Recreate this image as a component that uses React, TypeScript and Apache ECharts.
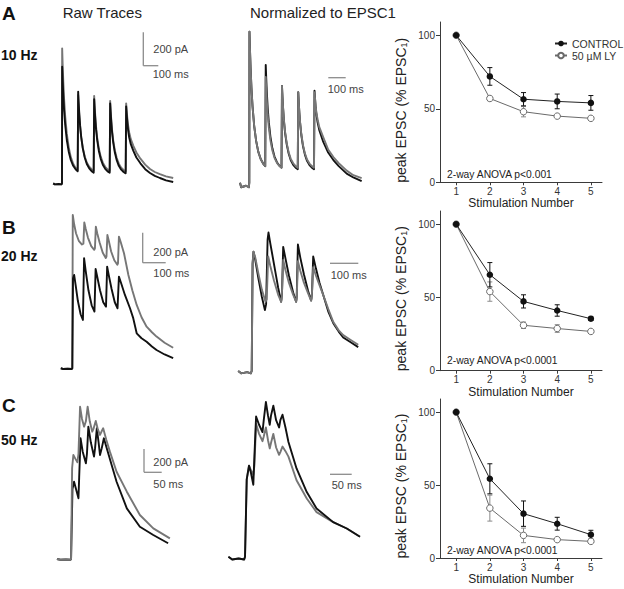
import React, { useEffect, useRef } from 'react';
import * as echarts from 'echarts';

const FONT = '"Liberation Sans", Arial, Helvetica, sans-serif';

// ---------- Traces (time in ms, current in pA or normalized to EPSC1) ----------
// 10 Hz raw
const raw10Control = [[-55,0],[-45,-6],[-20,-4],[-3,-6],[0,0],[1,700],[4,620],[8,530],[13,440],[20,350],[30,260],[42,190],[55,140],[70,105],[85,84],[98,72],
  [101,550],[104,488],[108,419],[113,349],[120,279],[130,210],[142,155],[155,116],[170,90],[185,73],[198,64],
  [201,505],[204,449],[208,386],[213,322],[220,259],[230,196],[242,147],[255,112],[270,87],[285,72],[298,64],
  [301,480],[304,427],[308,367],[313,306],[320,246],[330,186],[342,139],[355,105],[370,82],[385,68],[398,60],
  [401,462],[404,420],[408,370],[413,320],[420,275],[430,235],[446,195],[465,155],[490,120],[520,85],[550,62],[580,45],[612,32],[650,18],[695,8]];
const raw10LY = [[-55,0],[-45,-6],[-20,-4],[-3,-6],[0,0],[1,810],[4,717],[8,612],[13,507],[20,402],[30,298],[42,216],[55,157],[70,117],[85,92],[98,78],
  [101,530],[104,472],[108,407],[113,342],[120,277],[130,212],[142,161],[155,125],[170,100],[185,85],[198,76],
  [201,525],[204,468],[208,404],[213,339],[220,274],[230,210],[242,160],[255,124],[270,99],[285,84],[298,75],
  [301,495],[304,441],[308,381],[313,320],[320,259],[330,199],[342,152],[355,118],[370,94],[385,80],[398,72],
  [401,480],[404,440],[408,395],[413,350],[420,305],[430,265],[446,225],[465,185],[490,148],[520,112],[550,86],[580,68],[612,55],[650,42],[695,32]];
// 10 Hz normalized
const norm10Control = [[-57,0],[-50,-0.03],[-20,-0.02],[-3,-0.03],[0,0],[1,1.0],[4,0.887],[8,0.76],[13,0.632],[20,0.504],[30,0.377],[42,0.277],[55,0.206],[70,0.157],[85,0.127],[98,0.11],
  [101,0.78],[104,0.694],[108,0.596],[113,0.498],[120,0.401],[130,0.304],[142,0.228],[155,0.173],[170,0.136],[185,0.113],[198,0.1],
  [201,0.64],[204,0.57],[208,0.49],[213,0.41],[220,0.33],[230,0.255],[242,0.193],[255,0.149],[270,0.119],[285,0.1],[298,0.09],
  [301,0.6],[304,0.535],[308,0.462],[313,0.389],[320,0.316],[330,0.243],[342,0.186],[355,0.145],[370,0.117],[385,0.1],[398,0.09],
  [401,0.61],[404,0.56],[408,0.5],[413,0.45],[420,0.4],[430,0.35],[455,0.27],[485,0.2],[517,0.15],[550,0.11],[599,0.06],[640,0.035],[691,0.01]];
const norm10LY = [[-57,0],[-50,-0.03],[-20,-0.02],[-3,-0.03],[0,0],[1,1.0],[4,0.887],[8,0.76],[13,0.632],[20,0.504],[30,0.377],[42,0.277],[55,0.206],[70,0.157],[85,0.127],[98,0.11],
  [101,0.70],[104,0.624],[108,0.538],[113,0.452],[120,0.366],[130,0.28],[142,0.213],[155,0.165],[170,0.132],[185,0.111],[198,0.1],
  [201,0.64],[204,0.571],[208,0.494],[213,0.416],[220,0.339],[230,0.262],[242,0.202],[255,0.158],[270,0.129],[285,0.11],[298,0.1],
  [301,0.6],[304,0.537],[308,0.465],[313,0.393],[320,0.322],[330,0.25],[342,0.194],[355,0.154],[370,0.127],[385,0.11],[398,0.1],
  [401,0.6],[404,0.56],[408,0.51],[413,0.46],[420,0.42],[430,0.37],[455,0.3],[485,0.22],[517,0.17],[550,0.13],[599,0.08],[640,0.05],[691,0.03]];
// 20 Hz raw
const raw20Control = [[-50,0],[-40,-5],[-20,-3],[-3,-5],[0,0],[3,600],[8,622],[14,560],[24,450],[36,360],[46,322],
  [51,734],[58,650],[70,520],[84,420],[96,378],
  [101,662],[108,610],[120,520],[134,440],[146,411],
  [151,678],[158,620],[170,530],[184,440],[196,400],
  [202,611],[212,565],[228,489],[250,400],[264,334],[279,233],[300,200],[322,177],[345,145],[365,122],[400,92],[437,67]];
const raw20LY = [[-50,0],[-40,-5],[-20,-3],[-3,-5],[0,0],[2,1022],[8,960],[16,900],[28,850],[42,825],[48,830],
  [52,973],[58,930],[68,870],[82,815],[95,790],[98,800],
  [102,944],[108,900],[118,840],[132,770],[145,735],[148,745],
  [152,889],[158,850],[168,780],[182,720],[195,690],[198,700],
  [202,878],[210,840],[224,767],[243,622],[260,520],[279,422],[300,340],[322,277],[345,240],[365,211],[400,170],[437,137]];
// 20 Hz normalized
const norm20Control = [[-45,0],[-35,-0.02],[-15,-0.01],[-3,-0.02],[0,0],[3,0.9],[6,1.0],[12,0.93],[22,0.78],[34,0.62],[44,0.51],[48,0.56],
  [53,1.1],[56,1.16],[62,1.07],[74,0.9],[88,0.7],[98,0.58],[101,0.65],
  [105,1.04],[112,0.95],[124,0.8],[138,0.66],[148,0.58],[150,0.62],
  [154,1.06],[162,0.95],[174,0.81],[188,0.67],[198,0.59],[201,0.65],
  [205,0.96],[214,0.86],[226,0.74],[238,0.64],[255,0.5],[272,0.4],[290,0.33],[305,0.28],[330,0.24],[355,0.2]];
const norm20LY = [[-45,0],[-35,-0.02],[-15,-0.01],[-3,-0.02],[0,0],[3,0.9],[6,1.0],[12,0.95],[22,0.82],[34,0.68],[46,0.58],[50,0.6],
  [55,0.96],[62,0.88],[74,0.76],[88,0.64],[98,0.58],[100,0.6],
  [105,0.93],[112,0.85],[124,0.74],[138,0.64],[148,0.58],[150,0.6],
  [154,0.92],[162,0.84],[174,0.74],[188,0.65],[198,0.59],[200,0.61],
  [205,0.87],[214,0.8],[226,0.72],[238,0.64],[255,0.52],[272,0.41],[290,0.34],[305,0.3],[330,0.26],[355,0.22]];
// 50 Hz raw
const raw50Control = [[-40,0],[-30,-6],[-15,-4],[-2,-6],[0,0],[4,600],[8.5,662],[14,600],[21,520],[23,700],[27,1034],[33,920],[42,820],[45,900],[49,1134],[56,1000],[65,877],[68,950],[73,1120],[78,1000],[82,891],[87,950],[93,1034],[103,930],[115,806],[129,662],[158,434],[195,277],[233,206],[275,135]];
const raw50LY = [[-40,0],[-30,-6],[-15,-4],[-2,-6],[0,0],[3,780],[6.5,891],[12,860],[18,829],[21,900],[25.5,1305],[31,1200],[37,1134],[42,1180],[47,1305],[53,1180],[60,1091],[64,1120],[70,1183],[76,1110],[82,1063],[86,1090],[91,1120],[100,1020],[110,920],[129,748],[158,577],[195,377],[233,263],[280,177]];
// 50 Hz normalized
const norm50Control = [[-39,0],[-30,-0.03],[-15,-0.02],[-2,-0.03],[0,0],[4,0.85],[9.4,1.0],[14,0.92],[19.5,0.79],[22,1.1],[26,1.54],[33,1.45],[41,1.37],[44,1.5],[49,1.7],[54,1.55],[58,1.45],[61,1.55],[66.5,1.66],[73,1.5],[80,1.42],[83,1.5],[88,1.56],[95,1.42],[102,1.26],[121,0.97],[145,0.71],[168,0.53],[207,0.38],[239,0.31],[270,0.22]];
const norm50LY = [[-39,0],[-30,-0.03],[-15,-0.02],[-2,-0.03],[0,0],[4,0.85],[9.4,1.0],[14,0.95],[19.5,0.9],[22,1.0],[26,1.46],[33,1.35],[41,1.27],[44,1.32],[49,1.42],[54,1.28],[58,1.19],[61,1.25],[66.5,1.35],[73,1.2],[80,1.12],[83,1.15],[88,1.21],[95,1.16],[102,1.10],[121,0.84],[145,0.64],[168,0.49],[207,0.38],[239,0.31],[270,0.22]];

// ---------- Summary data: peak EPSC (% EPSC1) ----------
const stimulation = [1, 2, 3, 4, 5];
const yTickValues = [0, 50, 100];
const control10 = [100, 72, 56.5, 55, 54];
const control10Err = [0, 6, 4.5, 5, 5];
const ly10 = [100, 57, 48, 45, 43.5];
const ly10Err = [0, 1.5, 3.5, 1, 1];
const control20 = [100, 65.5, 47.3, 41.1, 35.5];
const control20Err = [0, 8.3, 4.5, 3.9, 1.2];
const ly20 = [100, 54, 31, 28.8, 26.8];
const ly20Err = [0, 6.6, 2.2, 2.6, 1];
const control50 = [100, 54.3, 30.4, 23.5, 16];
const control50Err = [0, 10.3, 8.7, 4.4, 3];
const ly50 = [100, 34.2, 15.5, 12.6, 11.4];
const ly50Err = [0, 8.9, 5, 0.8, 0.8];
const anovaTexts = ['2-way ANOVA p<0.001', '2-way ANOVA p<0.0001', '2-way ANOVA p<0.0001'];

const BLACK = '#111111';
const GRAY = '#767676';
const LYGRAY = '#6a6a6a';
const AXIS = '#3a3a3a';

export default function App() {
  const ref = useRef<HTMLDivElement>(null);
  useEffect(() => {
    if (!ref.current) return;
    const chart = echarts.init(ref.current, undefined, { renderer: 'svg' });

    const tracePanels = [
      { grid: { left: 40, top: 30, width: 150, height: 160 }, x: [-137.5, 800], y: [-40, 920], ctrl: raw10Control, ly: raw10LY, lyOnTop: false },
      { grid: { left: 230, top: 25, width: 150, height: 165 }, x: [-118.7, 803.8], y: [-0.048, 1.044], ctrl: norm10Control, ly: norm10LY, lyOnTop: true },
      { grid: { left: 40, top: 200, width: 150, height: 175 }, x: [-140, 510], y: [-45, 1122], ctrl: raw20Control, ly: raw20LY, lyOnTop: false },
      { grid: { left: 225, top: 200, width: 150, height: 175 }, x: [-89, 411], y: [-0.034, 1.433], ctrl: norm20Control, ly: norm20LY, lyOnTop: true },
      { grid: { left: 40, top: 395, width: 150, height: 170 }, x: [-88, 337], y: [-51, 1405], ctrl: raw50Control, ly: raw50LY, lyOnTop: true },
      { grid: { left: 215, top: 395, width: 165, height: 170 }, x: [-70.5, 317], y: [-0.091, 1.777], ctrl: norm50Control, ly: norm50LY, lyOnTop: false },
    ];
    const sumPanels = [
      { grid: { left: 440, top: 22, width: 162, height: 160.3 }, ctrl: control10, ctrlErr: control10Err, ly: ly10, lyErr: ly10Err },
      { grid: { left: 440, top: 211, width: 162, height: 159.7 }, ctrl: control20, ctrlErr: control20Err, ly: ly20, lyErr: ly20Err },
      { grid: { left: 440, top: 399, width: 162, height: 159 }, ctrl: control50, ctrlErr: control50Err, ly: ly50, lyErr: ly50Err },
    ];

    const grids: any[] = [];
    const xAxes: any[] = [];
    const yAxes: any[] = [];
    const series: any[] = [];

    tracePanels.forEach((p, i) => {
      grids.push({ ...p.grid, outerBoundsMode: 'none', containLabel: false });
      xAxes.push({ type: 'value', gridIndex: i, min: p.x[0], max: p.x[1], show: false });
      yAxes.push({ type: 'value', gridIndex: i, min: p.y[0], max: p.y[1], show: false });
      const mk = (data: number[][], color: string, z: number) => ({
        type: 'line', xAxisIndex: i, yAxisIndex: i, data, showSymbol: false, symbol: 'none',
        silent: true, z, lineStyle: { color, width: 1.9, join: 'round' },
      });
      series.push(mk(p.ctrl, BLACK, p.lyOnTop ? 2 : 3));
      series.push(mk(p.ly, GRAY, p.lyOnTop ? 3 : 2));
    });

    const errorBars = (idx: number, means: number[], errs: number[], color: string) => ({
      type: 'custom', xAxisIndex: idx, yAxisIndex: idx, silent: true, z: 1,
      data: stimulation.map((s, k) => [s, means[k] - errs[k], means[k] + errs[k]]),
      renderItem: (params: any, api: any) => {
        const x = api.value(0);
        const lo = api.coord([x, api.value(1)]);
        const hi = api.coord([x, api.value(2)]);
        const w = 2.5;
        const st = { stroke: color, lineWidth: 1 };
        return {
          type: 'group', children: [
            { type: 'line', shape: { x1: lo[0], y1: lo[1], x2: hi[0], y2: hi[1] }, style: st },
            { type: 'line', shape: { x1: lo[0] - w, y1: lo[1], x2: lo[0] + w, y2: lo[1] }, style: st },
            { type: 'line', shape: { x1: hi[0] - w, y1: hi[1], x2: hi[0] + w, y2: hi[1] }, style: st },
          ],
        };
      },
    });

    sumPanels.forEach((p, j) => {
      const idx = tracePanels.length + j;
      grids.push({ ...p.grid, outerBoundsMode: 'none', containLabel: false });
      xAxes.push({
        type: 'value', gridIndex: idx, min: 0.52, max: 5.33,
        name: 'Stimulation Number', nameLocation: 'middle', nameGap: 14,
        nameTextStyle: { fontFamily: FONT, fontSize: 12, color: '#222' },
        axisLine: { show: true, onZero: false, lineStyle: { color: AXIS, width: 1 } },
        axisTick: { show: true, length: 3, customValues: stimulation, lineStyle: { color: AXIS } },
        axisLabel: { customValues: stimulation, margin: 4, fontFamily: FONT, fontSize: 10, color: '#333', showMinLabel: true, showMaxLabel: true },
        splitLine: { show: false },
      });
      yAxes.push({
        type: 'value', gridIndex: idx, min: 0, max: 109,
        axisLine: { show: true, lineStyle: { color: AXIS, width: 1 } },
        axisTick: { show: true, length: 4, customValues: yTickValues, lineStyle: { color: AXIS } },
        axisLabel: { customValues: yTickValues, margin: 5, fontFamily: FONT, fontSize: 10, color: '#333' },
        splitLine: { show: false },
      });
      series.push(errorBars(idx, p.ly, p.lyErr, '#8a8a8a'));
      series.push(errorBars(idx, p.ctrl, p.ctrlErr, BLACK));
      series.push({
        type: 'line', name: 'CONTROL', xAxisIndex: idx, yAxisIndex: idx,
        data: stimulation.map((s, k) => [s, p.ctrl[k]]),
        symbol: 'circle', symbolSize: 6.5, z: 4,
        itemStyle: { color: BLACK },
        lineStyle: { color: '#222', width: 1 },
      });
      series.push({
        type: 'line', name: '50 µM LY', xAxisIndex: idx, yAxisIndex: idx,
        data: stimulation.map((s, k) => [s, p.ly[k]]),
        symbol: 'circle', symbolSize: 6.5, z: 3,
        itemStyle: { color: '#ffffff', borderColor: LYGRAY, borderWidth: 1 },
        lineStyle: { color: LYGRAY, width: 1 },
      });
    });

    const txt = (text: string, x: number, y: number, size: number, opts: any = {}) => ({
      type: 'text', x, y, silent: true,
      style: { text, fontFamily: FONT, fontSize: size, fill: opts.fill || '#111', fontWeight: opts.bold ? 'bold' : 'normal', align: opts.align || 'left', verticalAlign: 'middle' },
    });
    const ln = (x1: number, y1: number, x2: number, y2: number) => ({
      type: 'line', silent: true, shape: { x1, y1, x2, y2 }, style: { stroke: '#8c8c8c', lineWidth: 1.3 },
    });

    const yName = (cy: number) => ({
      type: 'text', x: 401, y: cy, rotation: Math.PI / 2, silent: true,
      style: {
        text: '{n|peak EPSC (% EPSC}{s|1}{n|)}',
        align: 'center', verticalAlign: 'middle', fill: '#222',
        rich: {
          n: { fontFamily: FONT, fontSize: 14, lineHeight: 14, fill: '#222', verticalAlign: 'top' },
          s: { fontFamily: FONT, fontSize: 9, lineHeight: 4, fill: '#222', verticalAlign: 'bottom' },
        },
      },
    });

    const graphic: any[] = [
      txt('A', 2, 13.5, 19, { bold: true }),
      txt('B', 2, 227.7, 19, { bold: true }),
      txt('C', 2, 405, 19, { bold: true }),
      txt('10 Hz', 1, 55, 14, { bold: true }),
      txt('20 Hz', 1, 256, 14, { bold: true }),
      txt('50 Hz', 1, 440, 14, { bold: true }),
      txt('Raw Traces', 62.7, 12.7, 15, { fill: '#222' }),
      txt('Normalized to EPSC1', 250, 12.7, 15, { fill: '#222' }),
      // scale bars
      ln(143.3, 32.3, 143.3, 65.7), ln(143.3, 65.7, 158.3, 65.7),
      txt('200 pA', 153.3, 48.5, 11, { fill: '#444' }),
      txt('100 ms', 152.7, 73.7, 11, { fill: '#444' }),
      ln(328.3, 77.7, 345.7, 77.7),
      txt('100 ms', 327.7, 89, 11, { fill: '#444' }),
      ln(142.7, 232.7, 142.7, 262.7), ln(142.7, 262.7, 165.7, 262.7),
      txt('200 pA', 153.3, 251.7, 11, { fill: '#444' }),
      txt('100 ms', 153.3, 273.3, 11, { fill: '#444' }),
      ln(330, 263.3, 358.3, 263.3),
      txt('100 ms', 330.7, 274.5, 11, { fill: '#444' }),
      ln(144, 449, 144, 472.3), ln(144, 472.3, 161.7, 472.3),
      txt('200 pA', 153.3, 461.7, 11, { fill: '#444' }),
      txt('50 ms', 153.3, 483.5, 11, { fill: '#444' }),
      ln(330, 474.3, 351.7, 474.3),
      txt('50 ms', 331.7, 484.5, 11, { fill: '#444' }),
      // summary annotations
      txt(anovaTexts[0], 447, 174, 10.3, { fill: '#222' }),
      txt(anovaTexts[1], 447, 360.7, 10.3, { fill: '#222' }),
      txt(anovaTexts[2], 447, 550.7, 10.3, { fill: '#222' }),
      yName(110.3),
      yName(298.7),
      yName(486),
    ];

    chart.setOption({
      animation: false,
      backgroundColor: '#ffffff',
      textStyle: { fontFamily: FONT },
      grid: grids,
      xAxis: xAxes,
      yAxis: yAxes,
      legend: {
        data: ['CONTROL', '50 µM LY'],
        orient: 'vertical', left: 549, top: 33,
        itemWidth: 12, itemHeight: 7, itemGap: 1,
        textStyle: { fontFamily: FONT, fontSize: 10.5, color: '#333', lineHeight: 8.5 },
        selectedMode: false,
      },
      series,
      graphic,
    });
    return () => chart.dispose();
  }, []);
  return <div ref={ref} style={{ position: 'fixed', left: 0, top: 0, width: 624, height: 589, background: '#fff' }} />;
}
